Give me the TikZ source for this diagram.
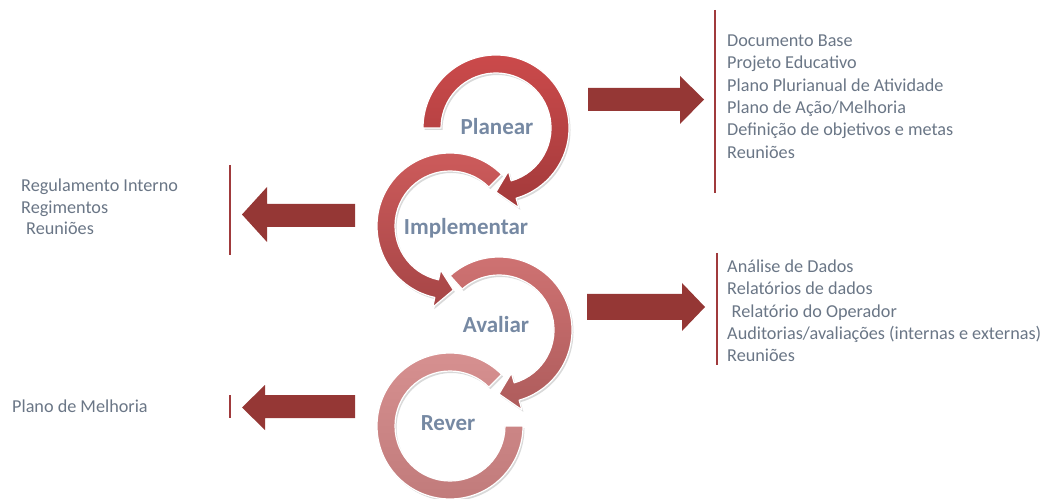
\documentclass[tikz,border=0pt]{standalone}
\usepackage{fontspec}
\setmainfont{Carlito}
\usetikzlibrary{shadows}
\definecolor{txt}{HTML}{6A7686}
\definecolor{lbl}{HTML}{7689A3}
\definecolor{blk}{HTML}{953735}
\definecolor{vline}{HTML}{A03A3C}
\definecolor{pTop}{HTML}{CB4A4B}
\definecolor{pBot}{HTML}{A33A3B}
\definecolor{iTop}{HTML}{CE5C5C}
\definecolor{iBot}{HTML}{A64546}
\definecolor{aTop}{HTML}{D07373}
\definecolor{aBot}{HTML}{AE5C5C}
\definecolor{rTop}{HTML}{D79191}
\definecolor{rBot}{HTML}{C07A7A}
\tikzset{
  ring/.style={draw=white, line width=1.2pt, line join=round,
    drop shadow={shadow xshift=1.5pt, shadow yshift=-2pt, fill=black, opacity=0.15}},
  item/.style={anchor=base west, inner sep=0pt, text=txt, font=\fontsize{18.2}{21}\selectfont},
  phase/.style={anchor=base, inner sep=0pt, text=lbl, font=\fontsize{23}{27}\selectfont\bfseries},
  blockarrow/.style={fill=blk},
  sep/.style={draw=vline, line width=1.5pt}
}
\begin{document}
\begin{tikzpicture}[x=1pt,y=1pt]
\useasboundingbox (0,0) rectangle (1048,498);

% rings (back to front)
\begin{scope}[shift={(450,72)}]
\path[ring, top color=rTop, bottom color=rBot]
  (45:73) arc[start angle=45, end angle=360, radius=73pt]
  -- (0:55) arc[start angle=360, end angle=45, radius=55pt] -- cycle;
\end{scope}
\begin{scope}[shift={(499,168)}]
\path[ring, top color=aTop, bottom color=aBot]
  (132:73) arc[start angle=132, end angle=-74, radius=73pt]
  -- (-74:83) -- (-90:64) -- (-74:45) -- (-74:55)
  arc[start angle=-74, end angle=132, radius=55pt] -- cycle;
\end{scope}
\begin{scope}[shift={(450,272)}]
\path[ring, top color=iTop, bottom color=iBot]
  (45:73) arc[start angle=45, end angle=258, radius=73pt]
  -- (258:83) -- (273:64) -- (258:45) -- (258:55)
  arc[start angle=258, end angle=45, radius=55pt] -- cycle;
\end{scope}
\begin{scope}[shift={(496,370)}]
\path[ring, top color=pTop, bottom color=pBot]
  (180:73) arc[start angle=180, end angle=-74, radius=73pt]
  -- (-74:83) -- (-90:64) -- (-74:45) -- (-74:55)
  arc[start angle=-74, end angle=180, radius=55pt] -- cycle;
\end{scope}

% phase labels
\node[phase] (planear) at (497,363) {Planear};
\node[phase] (implementar) at (466,263.7) {Implementar};
\node[phase] (avaliar) at (496,165.3) {Avaliar};
\node[phase] (rever) at (448,67.3) {Rever};

% block arrows
\fill[blockarrow] (588,387) -- (680,387) -- (680,374) -- (704,398.5) -- (680,422) -- (680,410) -- (588,410) -- cycle;
\fill[blockarrow] (587,178) -- (682,178) -- (682,167) -- (705,191) -- (682,215) -- (682,204) -- (587,204) -- cycle;
\fill[blockarrow] (355,271) -- (267,271) -- (267,256) -- (242,283.5) -- (267,311) -- (267,294) -- (355,294) -- cycle;
\fill[blockarrow] (355,80) -- (265,80) -- (265,68) -- (242,90.5) -- (265,113) -- (265,103) -- (355,103) -- cycle;

% separator lines
\coordinate (s1a) at (715,488); \coordinate (s1b) at (715,305);
\coordinate (s2a) at (230,333); \coordinate (s2b) at (230,243);
\coordinate (s3a) at (717,245); \coordinate (s3b) at (717,133);
\coordinate (s4a) at (230,103); \coordinate (s4b) at (230,80);
\draw[sep] (s1a) -- (s1b);
\draw[sep] (s2a) -- (s2b);
\draw[sep] (s3a) -- (s3b);
\draw[sep] (s4a) -- (s4b);

% lists
\node[item] (p1) at (727,451.3) {Documento Base};
\node[item] (p2) at (727,429.0) {Projeto Educativo};
\node[item] (p3) at (727,406.7) {Plano Plurianual de Atividade};
\node[item] (p4) at (727,384.4) {Plano de Ação/Melhoria};
\node[item] (p5) at (727,362.1) {Definição de objetivos e metas};
\node[item] (p6) at (727,339.8) {Reuniões};

\node[item] (i1) at (21,306.3) {Regulamento Interno};
\node[item] (i2) at (21,284.7) {Regimentos};
\node[item] (i3) at (26,263.0) {Reuniões};

\node[item] (a1) at (727,225.3) {Análise de Dados};
\node[item] (a2) at (727,203.05) {Relatórios de dados};
\node[item] (a3) at (731.5,180.8) {Relatório do Operador};
\node[item] (a4) at (727,158.55) {Auditorias/avaliações (internas e externas)};
\node[item] (a5) at (727,136.3) {Reuniões};

\node[item] (r1) at (12,85.7) {Plano de Melhoria};
\end{tikzpicture}
\end{document}
